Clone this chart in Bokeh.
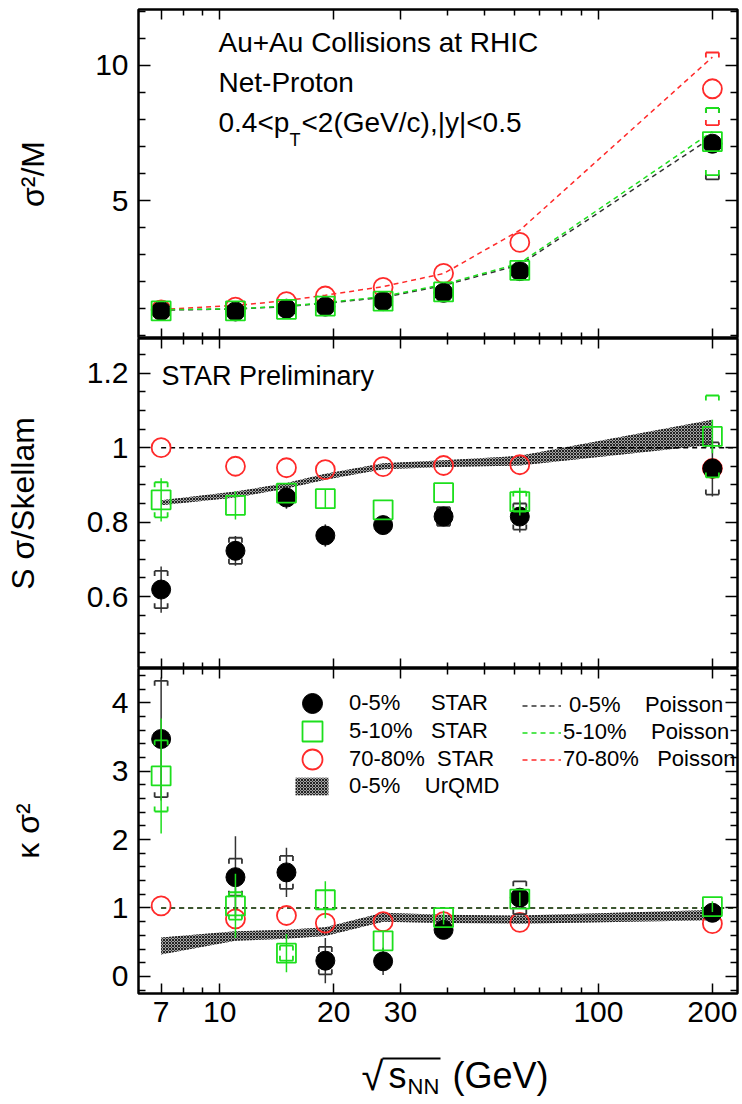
import math
from bokeh.plotting import figure
from bokeh.models import (FixedTicker, LogAxis, LinearAxis, Label, Legend, LegendItem,
                          CustomJSTickFormatter, Range1d, BoxAnnotation)
from bokeh.layouts import column
from bokeh.embed import file_html
from bokeh.resources import INLINE

# ---------------- data ----------------
energy = [7.0, 11.0, 15.0, 19.0, 27.0, 39.0, 62.0, 200.0]
x_ticks = [7, 10, 20, 30, 100, 200]
x_minor = [8, 9, 40, 50, 60, 70, 80, 90]

# sigma^2/M
var_c05 = [0.92, 0.90, 1.00, 1.08, 1.28, 1.59, 2.39, 7.10]
var_c510 = [0.92, 0.92, 0.98, 1.10, 1.28, 1.62, 2.42, 7.18]
var_c7080 = [0.96, 1.06, 1.26, 1.47, 1.79, 2.31, 3.45, 9.13]
var_pois_c05 = [0.95, 0.99, 1.08, 1.20, 1.42, 1.86, 2.62, 7.35]
var_pois_c510 = [0.96, 1.00, 1.10, 1.22, 1.45, 1.90, 2.68, 7.55]
var_pois_c7080 = [0.97, 1.12, 1.30, 1.50, 1.82, 2.30, 3.90, 10.30]
var_sys_c05 = [0, 0, 0, 0, 0, 0, 0, 1.32]
var_sys_c510 = [0, 0, 0, 0, 0, 0, 0, 1.24]
var_sys_c7080 = [0, 0, 0, 0, 0, 0, 0, 1.34]

# S sigma / Skellam
ss_c05 = [0.619, 0.723, 0.866, 0.764, 0.792, 0.815, 0.815, 0.944]
ss_stat_c05 = [0.062, 0.040, 0.030, 0.030, 0.020, 0.020, 0.043, 0.075]
ss_sys_c05 = [0.050, 0.035, 0, 0, 0, 0.025, 0.035, 0.070]
ss_c510 = [0.860, 0.845, 0.878, 0.863, 0.833, 0.879, 0.855, 1.030]
ss_stat_c510 = [0.058, 0.038, 0, 0.025, 0, 0, 0.037, 0.045]
ss_sys_c510 = [0.047, 0, 0, 0, 0, 0, 0.027, 0.110]
ss_c7080 = [1.000, 0.950, 0.946, 0.941, 0.949, 0.952, 0.954, 0.944]
ss_urqmd_lo = [0.845, 0.866, 0.890, 0.914, 0.942, 0.948, 0.952, 1.008]
ss_urqmd_hi = [0.859, 0.882, 0.905, 0.930, 0.958, 0.966, 0.978, 1.075]
skellam_base = [1.0, 1.0]

# kappa sigma^2
ks_c05 = [3.47, 1.45, 1.52, 0.23, 0.22, 0.68, 1.15, 0.93]
ks_stat_c05 = [0.90, 0.60, 0.36, 0.33, 0.20, 0.08, 0.10, 0.08]
ks_sys_c05 = [0.85, 0.27, 0.24, 0.20, 0, 0, 0.24, 0]
ks_c510 = [2.93, 1.03, 0.34, 1.12, 0.52, 0.86, 1.13, 1.02]
ks_stat_c510 = [0.84, 0.47, 0.28, 0.27, 0.15, 0.10, 0.10, 0.08]
ks_sys_c510 = [0.52, 0.20, 0.11, 0, 0, 0, 0, 0]
ks_c7080 = [1.03, 0.84, 0.89, 0.78, 0.80, 0.80, 0.79, 0.77]
ks_urqmd_lo = [0.32, 0.52, 0.55, 0.59, 0.80, 0.78, 0.77, 0.82]
ks_urqmd_hi = [0.57, 0.66, 0.68, 0.72, 0.93, 0.90, 0.89, 0.97]
poisson_base = [1.0, 1.0]

# ---------------- style ----------------
FONT = "Liberation Sans"
BLACK = "#000000"
GREY = "#333333"
GREEN = "#1ddf1d"
RED = "#ff2a2a"
X_MIN, X_MAX = 6.1, 233.0
FRAME_W = 599
LEFT = 138
PX_PER_DEC = FRAME_W / math.log10(X_MAX / X_MIN)
DASH = "5 4"

fmt = CustomJSTickFormatter(code="return String(tick)")


def make_fig(frame_h, ylo, yhi, yticks, yminor, top_border, bottom_border, xlabels,
             ylabel, ylabel_standoff):
    p = figure(frame_width=FRAME_W, frame_height=frame_h, x_axis_type="log",
               x_range=Range1d(X_MIN, X_MAX), y_range=Range1d(ylo, yhi),
               output_backend="svg", toolbar_location=None,
               min_border_left=LEFT, min_border_right=3,
               min_border_top=top_border, min_border_bottom=bottom_border)
    p.xgrid.visible = False
    p.ygrid.visible = False
    p.outline_line_color = "black"
    p.outline_line_width = 2.5
    p.background_fill_color = "white"
    p.border_fill_color = "white"
    xt = FixedTicker(ticks=x_ticks, minor_ticks=x_minor)
    yt = FixedTicker(ticks=yticks, minor_ticks=yminor)

    def style(ax, maj, mnr, labels, standoff):
        ax.axis_line_color = None
        ax.major_tick_in = maj
        ax.major_tick_out = 0
        ax.minor_tick_in = mnr
        ax.minor_tick_out = 0
        ax.major_tick_line_width = 1.5
        ax.minor_tick_line_width = 1.5
        ax.formatter = fmt
        if labels:
            ax.major_label_text_font = FONT
            ax.major_label_text_font_size = "30px"
            ax.major_label_text_color = "black"
            ax.major_label_standoff = standoff
        else:
            ax.major_label_text_font_size = "0px"
            ax.major_label_text_color = None
            ax.major_label_standoff = 0

    bx = p.xaxis[0]
    bx.ticker = xt
    style(bx, 10, 6, xlabels, 8)
    ly = p.yaxis[0]
    ly.ticker = yt
    style(ly, 12, 7, True, 10)
    ly.axis_label = ylabel
    ly.axis_label_text_font = FONT
    ly.axis_label_text_font_size = "32px"
    ly.axis_label_text_font_style = "normal"
    ly.axis_label_text_color = "black"
    ly.axis_label_standoff = ylabel_standoff
    ax_top = LogAxis(ticker=xt)
    style(ax_top, 10, 6, False, 0)
    p.add_layout(ax_top, "above")
    ax_r = LinearAxis(ticker=yt)
    style(ax_r, 12, 7, False, 0)
    p.add_layout(ax_r, "right")
    return p


def txt(p, text, sx, baseline, size_px, align="left"):
    # baseline measured in screen px from the frame bottom; Bokeh's label box
    # puts the anchor under the glyph descent, so lift it by about a third of the size
    p.add_layout(Label(x=sx, y=baseline + 0.33 * size_px, x_units="screen", y_units="screen",
                       text=text, text_align=align, text_baseline="alphabetic",
                       text_font=FONT, text_font_size=f"{size_px}px", text_color="black"))


def errors(p, xs, ys, stat, sys, color, ppu):
    k = 10 ** (6.5 / PX_PER_DEC)
    leg = 5.0 / ppu
    sx0, sy0, sx1, sy1 = [], [], [], []
    for x, y, e in zip(xs, ys, stat):
        if e > 0:
            sx0.append(x); sx1.append(x); sy0.append(y - e); sy1.append(y + e)
    if sx0:
        p.segment(x0=sx0, y0=sy0, x1=sx1, y1=sy1, line_color=color, line_width=1.5)
    bx0, by0, bx1, by1 = [], [], [], []
    for x, y, e in zip(xs, ys, sys):
        if e > 0:
            for yy, d in ((y + e, -leg), (y - e, leg)):
                bx0 += [x / k, x / k, x * k]
                by0 += [yy, yy, yy]
                bx1 += [x * k, x / k, x * k]
                by1 += [yy, yy + d, yy + d]
    if bx0:
        p.segment(x0=bx0, y0=by0, x1=bx1, y1=by1, line_color=color, line_width=1.8)


def markers(p, xs, ys, kind):
    if kind == "black":
        return p.scatter(xs, ys, marker="circle", size=19, fill_color=BLACK, line_color=BLACK)
    if kind == "green":
        return p.scatter(xs, ys, marker="square", size=19, fill_color=None,
                         line_color=GREEN, line_width=1.8)
    return p.scatter(xs, ys, marker="circle", size=19, fill_color=None,
                     line_color=RED, line_width=1.8)


band_style = dict(fill_color="#a4a4a4", hatch_pattern="x", hatch_color="#222222",
                  hatch_scale=3, hatch_weight=1)

# ---------------- top panel ----------------
H1 = 329
p1 = make_fig(H1, -0.1, 12.06, [5, 10], [0, 1, 2, 3, 4, 6, 7, 8, 9, 11, 12], 9, 0, False,
              "σ²/M", 41)
ppu1 = H1 / 12.16
p1.line(energy, var_pois_c7080, line_color=RED, line_dash=DASH, line_width=1.5)
p1.line(energy, var_pois_c05, line_color=GREY, line_dash=DASH, line_width=1.5)
p1.line(energy, var_pois_c510, line_color=GREEN, line_dash=DASH, line_width=1.5)
errors(p1, energy, var_c7080, [0] * 8, var_sys_c7080, RED, ppu1)
markers(p1, energy, var_c7080, "red")
errors(p1, energy, var_c05, [0] * 8, var_sys_c05, GREY, ppu1)
markers(p1, energy, var_c05, "black")
errors(p1, energy, var_c510, [0] * 8, var_sys_c510, GREEN, ppu1)
markers(p1, energy, var_c510, "green")
txt(p1, "Au+Au Collisions at RHIC", 80, 287, 28)
txt(p1, "Net-Proton", 80, 247, 28)
txt(p1, "0.4<p", 80, 207, 28)
txt(p1, "T", 151, 193, 18)
txt(p1, "<2(GeV/c),|y|<0.5", 163, 207, 28)

# ---------------- middle panel ----------------
H2 = 330
p2 = make_fig(H2, 0.407, 1.293, [0.6, 0.8, 1.0, 1.2],
              [0.45, 0.5, 0.55, 0.65, 0.7, 0.75, 0.85, 0.9, 0.95, 1.05, 1.1, 1.15, 1.25],
              0, 0, False, "S σ/Skellam", 43)
ppu2 = H2 / (1.293 - 0.407)
p2.varea(x=energy, y1=ss_urqmd_lo, y2=ss_urqmd_hi, **band_style)
p2.line([energy[0], X_MAX], skellam_base, line_color=BLACK, line_dash=DASH, line_width=1.5)
markers(p2, energy, ss_c7080, "red")
errors(p2, energy, ss_c05, ss_stat_c05, ss_sys_c05, GREY, ppu2)
markers(p2, energy, ss_c05, "black")
errors(p2, energy, ss_c510, ss_stat_c510, ss_sys_c510, GREEN, ppu2)
markers(p2, energy, ss_c510, "green")
txt(p2, "STAR Preliminary", 23, 284, 27)

# ---------------- bottom panel ----------------
H3 = 325
p3 = make_fig(H3, -0.25, 4.5, [0, 1, 2, 3, 4],
              [-0.2, 0.2, 0.4, 0.6, 0.8, 1.2, 1.4, 1.6, 1.8, 2.2, 2.4, 2.6, 2.8,
               3.2, 3.4, 3.6, 3.8, 4.2, 4.4], 0, 45, True, "κ σ²", 63)
ppu3 = H3 / 4.75
band = p3.varea(x=energy, y1=ks_urqmd_lo, y2=ks_urqmd_hi, **band_style)
pr = p3.line([energy[0], X_MAX], poisson_base, line_color=RED, line_dash=DASH, line_width=1.5)
pg = p3.line([energy[0], X_MAX], poisson_base, line_color=GREEN, line_dash=DASH, line_width=1.5)
pb = p3.line([energy[0], X_MAX], poisson_base, line_color=GREY, line_dash=DASH, line_width=1.5)
rr = markers(p3, energy, ks_c7080, "red")
errors(p3, energy, ks_c05, ks_stat_c05, ks_sys_c05, GREY, ppu3)
rb = markers(p3, energy, ks_c05, "black")
errors(p3, energy, ks_c510, ks_stat_c510, ks_sys_c510, GREEN, ppu3)
rg = markers(p3, energy, ks_c510, "green")

NB = "\u00a0"
leg_common = dict(padding=0, margin=0, border_line_color=None, background_fill_alpha=0,
                  label_text_font=FONT, label_text_font_size="22px",
                  label_text_color="black", orientation="vertical")
for lab, rend, ybot in (("0-5%" + NB * 5 + "STAR", rb, 265),
                        ("5-10%" + NB * 3 + "STAR", rg, 237),
                        ("70-80%" + NB * 2 + "STAR", rr, 209)):
    p3.add_layout(Legend(items=[LegendItem(label=lab, renderers=[rend])],
                         location=(149, ybot), glyph_width=50, glyph_height=50,
                         label_height=50, label_standoff=12, spacing=0, **leg_common))
p3.add_layout(Legend(items=[LegendItem(label="0-5%" + NB * 4 + "UrQMD", renderers=[band])],
                     location=(153, 194), glyph_width=41, glyph_height=22, label_height=22,
                     label_standoff=17, spacing=0, **leg_common))
p3.add_layout(Legend(items=[LegendItem(label=NB + "0-5%" + NB * 4 + "Poisson", renderers=[pb]),
                            LegendItem(label="5-10%" + NB * 4 + "Poisson", renderers=[pg]),
                            LegendItem(label="70-80%" + NB * 3 + "Poisson", renderers=[pr])],
                     location=(384, 221), glyph_width=39, glyph_height=25, label_height=25,
                     label_standoff=2, spacing=1, **leg_common))

# ---------------- x-axis title strip ----------------
H4 = 61
p4 = figure(frame_width=FRAME_W, frame_height=H4, x_range=Range1d(0, 1), y_range=Range1d(0, 1),
            output_backend="svg", toolbar_location=None, x_axis_location=None,
            y_axis_location=None, min_border_left=LEFT, min_border_right=3,
            min_border_top=0, min_border_bottom=0)
p4.grid.visible = False
p4.outline_line_color = None
p4.background_fill_color = "white"
p4.border_fill_color = "white"
txt(p4, "√", 223, 10, 40)
txt(p4, "s", 250, 12, 36)
txt(p4, "NN", 269, 6, 22)
txt(p4, "(GeV)", 314, 12, 36)
p4.add_layout(BoxAnnotation(left=244, right=302, top=42, bottom=40,
                            left_units="screen", right_units="screen",
                            top_units="screen", bottom_units="screen",
                            fill_color="black", fill_alpha=1, line_color=None))

layout = column(p1, p2, p3, p4, spacing=0)
open("out.html", "w").write(file_html(layout, INLINE))
